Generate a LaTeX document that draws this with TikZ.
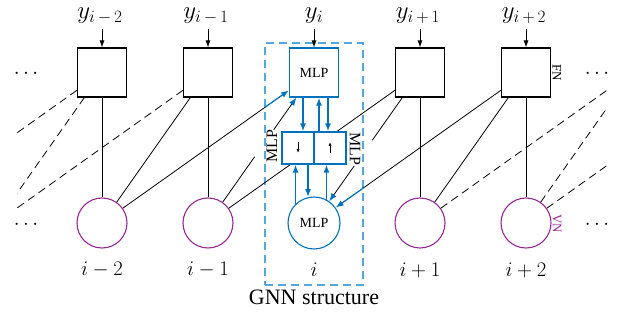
\documentclass[tikz,border=0pt]{standalone}
\usepackage{fontspec}
\setmainfont{Liberation Serif}
\usetikzlibrary{arrows.meta,calc}
\definecolor{mblue}{RGB}{0,114,189}
\definecolor{lblue}{RGB}{85,168,222}
\definecolor{vpurple}{RGB}{150,40,150}
\begin{document}
\begin{tikzpicture}[x=1pt,y=-1pt,
  font=\fontsize{22}{26}\selectfont,
  fnbox/.style={draw,line width=1.1pt,minimum size=49pt,inner sep=0pt},
  vnode/.style={draw=vpurple,circle,line width=1.1pt,minimum size=50pt,inner sep=0pt},
  mlpbox/.style={draw=mblue,fill=white,line width=1.1pt,minimum size=49pt,inner sep=0pt,font=\fontsize{14}{14}\selectfont},
  mlpnode/.style={draw=mblue,circle,fill=white,line width=1.1pt,minimum size=52pt,inner sep=0pt,font=\fontsize{14}{14}\selectfont},
  smallbox/.style={draw=mblue,fill=white,line width=1.1pt,minimum size=32pt,inner sep=0pt},
  edge/.style={line width=0.8pt},
  dedge/.style={line width=0.8pt,dash pattern=on 8pt off 5pt},
  btip/.style={line width=0.8pt,-{Latex[length=8pt,width=6pt,color=mblue]}},
  bseg/.style={mblue,line width=1.3pt,-{Latex[length=8pt,width=6pt]}},
  barrow/.style={mblue,line width=1.8pt,-{Latex[length=8pt,width=6pt]}},
  tarrow/.style={line width=0.8pt,-{Latex[length=7pt,width=5pt]}},
  sarrow/.style={line width=0.7pt,-{Latex[length=4pt,width=3pt]}},
  elabel/.style={inner sep=1pt,font=\fontsize{16}{16}\selectfont},
  sidelabel/.style={inner sep=1pt,font=\fontsize{13}{13}\selectfont},
  ylabel/.style={inner sep=1pt,font=\fontsize{23}{26}\selectfont}
]
\useasboundingbox (0,0) rectangle (624,320);

% dashed GNN box
\node[draw=lblue,line width=1.4pt,dash pattern=on 8pt off 5pt,minimum width=98pt,minimum height=242pt,inner sep=0pt] (gnn) at (314,164) {};
\node (gnnl) at (314,297) {GNN structure};

% factor nodes
\node[fnbox] (fn1) at (102,72.5) {};
\node[fnbox] (fn2) at (208,72.5) {};
\node[fnbox] (fn4) at (420,72.5) {};
\node[fnbox] (fn5) at (526,72.5) {};
% variable nodes
\node[vnode] (vn1) at (102,223) {};
\node[vnode] (vn2) at (208,223) {};
\node[vnode] (vn4) at (420,223) {};
\node[vnode] (vn5) at (526,223) {};

% off-picture nodes
\coordinate (vm4) at (-110,223);
\coordinate (vm3) at (-4,223);
\coordinate (fp3) at (632,72.5);
\coordinate (fp4) at (738,72.5);

% dashed edges
\begin{scope}
\clip (17,0) rectangle (607,320);
\draw[dedge] (fn1) -- (vm4);
\draw[dedge] (fn1) -- (vm3);
\draw[dedge] (fn2) -- (vm3);
\draw[dedge] (vn4) -- (fp3);
\draw[dedge] (vn5) -- (fp3);
\draw[dedge] (vn5) -- (fp4);
\end{scope}

% solid edges
\draw[edge] (fn1) -- (vn1);
\draw[edge] (fn2) -- (vn1);
\draw[edge] (fn2) -- (vn2);
\draw[edge] (vn2) -- (fn4);
\draw[edge] (fn4) -- (vn4);
\draw[edge] (fn5) -- (vn4);
\draw[edge] (fn5) -- (vn5);

% center nodes
\node[mlpbox] (fn3) at (314,72.5) {MLP};
\node[mlpnode] (vn3) at (314,223) {MLP};
\node[smallbox] (sl) at (298,148) {};
\node[smallbox] (sr) at (330,148) {};
\draw[sarrow] ([yshift=6pt]sl.center) -- ([yshift=-5pt]sl.center);
\draw[sarrow] ([yshift=-5pt]sr.center) -- ([yshift=6pt]sr.center);

% edges into the GNN structure
\draw[edge] (vn1) -- ($(vn1)!0.769!(fn3)$);
\draw[bseg] ($(vn1)!0.769!(fn3)$) -- (fn3);
\draw[edge] (fn5) -- ($(fn5)!0.769!(vn3)$);
\draw[bseg] ($(fn5)!0.769!(vn3)$) -- (vn3);
\draw[edge] (vn2) -- ($(vn2)!0.44!(fn3)$);
\draw[btip] ($(vn2)!0.62!(fn3)$) -- (fn3);
\draw[edge] (fn4) -- ($(fn4)!0.45!(vn3)$);
\draw[btip] ($(fn4)!0.62!(vn3)$) -- (vn3);
\node[elabel,rotate=90] (ml1) at (272,146) {MLP};
\node[elabel,rotate=-90] (ml2) at (355,149) {MLP};

% blue message arrows
\draw[barrow] ([xshift=-11pt]fn3.south) -- ([xshift=-11pt]fn3.south |- sl.north);
\draw[barrow] ([xshift=5pt]fn3.south |- sr.north) -- ([xshift=5pt]fn3.south);
\draw[barrow] ([xshift=14pt]fn3.south) -- ([xshift=14pt]fn3.south |- sr.north);
\draw[barrow] (vn3.134) -- (vn3.134 |- sl.south);
\draw[barrow] (vn3.103 |- sl.south) -- (vn3.103);
\draw[barrow] (vn3.62) -- (vn3.62 |- sr.south);

% top labels
\node[ylabel] (y1) at (100,16) {$y_{i\,-\,2}$};
\node[ylabel] (y2) at (206,16) {$y_{i\,-\,1}$};
\node[ylabel] (y3) at (314,16) {$y_{i}$};
\node[ylabel] (y4) at (418,16) {$y_{i\,+\,1}$};
\node[ylabel] (y5) at (524,16) {$y_{i\,+\,2}$};
\coordinate (t1) at (102,29);
\coordinate (t2) at (208,29);
\coordinate (t3) at (314,29);
\coordinate (t4) at (420,29);
\coordinate (t5) at (526,29);
\draw[tarrow] (t1) -- (fn1.north);
\draw[tarrow] (t2) -- (fn2.north);
\draw[tarrow] (t3) -- (fn3.north);
\draw[tarrow] (t4) -- (fn4.north);
\draw[tarrow] (t5) -- (fn5.north);

% bottom labels
\node (i1) at (102,270) {$i-2$};
\node (i2) at (208,270) {$i-1$};
\node (i3) at (314,270) {$i$};
\node (i4) at (420,270) {$i+1$};
\node (i5) at (526,270) {$i+2$};

% dots
\node (d1) at (26,74) {$\cdots$};
\node (d2) at (26,225) {$\cdots$};
\node (d3) at (597,74) {$\cdots$};
\node (d4) at (597,225) {$\cdots$};

% side labels
\node[sidelabel,rotate=-90] (fnl) at (557,73) {FN};
\node[sidelabel,rotate=-90,text=vpurple] (vnl) at (557,224) {VN};
\end{tikzpicture}
\end{document}
